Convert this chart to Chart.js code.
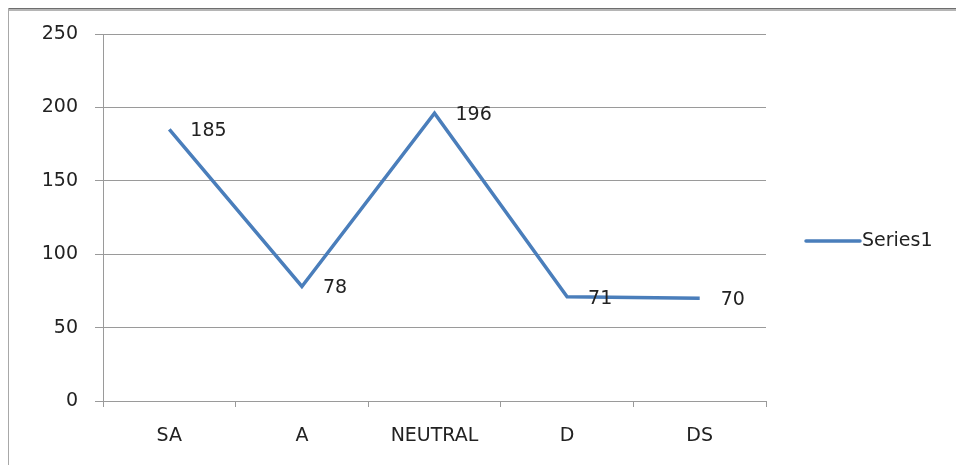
<!DOCTYPE html>
<html>
<head>
<meta charset="utf-8">
<script src="https://cdn.jsdelivr.net/npm/chart.js@4"></script>
<style>
  html, body { margin: 0; padding: 0; background: #fff; }
  #wrap { width: 956px; height: 465px; position: relative; }
</style>
</head>
<body>
<div id="wrap"><canvas id="c" width="956" height="465"></canvas></div>
<script>
const categories = ['SA', 'A', 'NEUTRAL', 'D', 'DS'];
const seriesName = 'Series1';
const seriesValues = [185, 78, 196, 71, 70];
const yTicks = [0, 50, 100, 150, 200, 250];

const FONT = 'DejaVu Sans';
const LINE_COLOR = '#4a7ebb';
const TEXT_COLOR = '#222';
const GRID_COLOR = '#9a9a9a';

// White page with the frame lines along the top and left edges
const framePlugin = {
  id: 'frame',
  beforeDraw(chart) {
    const ctx = chart.ctx;
    ctx.save();
    ctx.fillStyle = '#fff';
    ctx.fillRect(0, 0, chart.width, chart.height);
    ctx.fillStyle = '#6e6e6e';
    ctx.fillRect(8, 8, chart.width - 8, 1);
    ctx.fillStyle = '#b5b5b5';
    ctx.fillRect(8, 9, chart.width - 8, 2);
    ctx.fillStyle = '#a8a8a8';
    ctx.fillRect(8, 8, 1, chart.height - 8);
    ctx.restore();
  }
};

// Value labels to the right of each point
const valueLabelPlugin = {
  id: 'valueLabels',
  afterDatasetsDraw(chart) {
    const ctx = chart.ctx;
    const meta = chart.getDatasetMeta(0);
    const data = chart.data.datasets[0].data;
    ctx.save();
    ctx.font = '19px "' + FONT + '"';
    ctx.fillStyle = TEXT_COLOR;
    ctx.textAlign = 'left';
    ctx.textBaseline = 'middle';
    meta.data.forEach((pt, i) => {
      ctx.fillText(String(data[i]), pt.x + 21, pt.y + 2);
    });
    ctx.restore();
  }
};

// Legend entry to the right of the plot
const sideLegendPlugin = {
  id: 'sideLegend',
  afterDraw(chart) {
    const ctx = chart.ctx;
    const ds = chart.data.datasets[0];
    const y = 241;
    ctx.save();
    ctx.strokeStyle = ds.borderColor;
    ctx.lineWidth = 3.5;
    ctx.lineCap = 'round';
    ctx.beginPath();
    ctx.moveTo(806, y);
    ctx.lineTo(860, y);
    ctx.stroke();
    ctx.font = '19px "' + FONT + '"';
    ctx.fillStyle = TEXT_COLOR;
    ctx.textAlign = 'left';
    ctx.textBaseline = 'middle';
    ctx.fillText(ds.label, 862, y);
    ctx.restore();
  }
};

new Chart(document.getElementById('c'), {
  type: 'line',
  data: {
    labels: categories,
    datasets: [{
      label: seriesName,
      data: seriesValues,
      borderColor: LINE_COLOR,
      backgroundColor: LINE_COLOR,
      borderWidth: 3.5,
      pointRadius: 0,
      pointHoverRadius: 0,
      tension: 0,
      fill: false
    }]
  },
  options: {
    responsive: false,
    animation: false,
    events: [],
    layout: { padding: { left: 0, top: 34, right: 190, bottom: 0 } },
    plugins: {
      legend: { display: false },
      tooltip: { enabled: false }
    },
    scales: {
      x: {
        offset: true,
        grid: {
          offset: true,
          drawOnChartArea: false,
          drawTicks: true,
          tickLength: 6,
          color: GRID_COLOR
        },
        border: { color: GRID_COLOR, width: 1 },
        ticks: {
          font: { family: FONT, size: 19 },
          color: TEXT_COLOR,
          padding: 18
        },
        afterFit(scale) { scale.height = 64; }
      },
      y: {
        min: 0,
        max: 250,
        afterBuildTicks(scale) { scale.ticks = yTicks.map(v => ({ value: v })); },
        grid: {
          color: GRID_COLOR,
          drawTicks: true,
          tickLength: 8
        },
        border: { color: GRID_COLOR, width: 1 },
        ticks: {
          font: { family: FONT, size: 19 },
          color: TEXT_COLOR,
          padding: 17
        },
        afterFit(scale) { scale.width = 103; }
      }
    }
  },
  plugins: [framePlugin, valueLabelPlugin, sideLegendPlugin]
});
</script>
</body>
</html>
